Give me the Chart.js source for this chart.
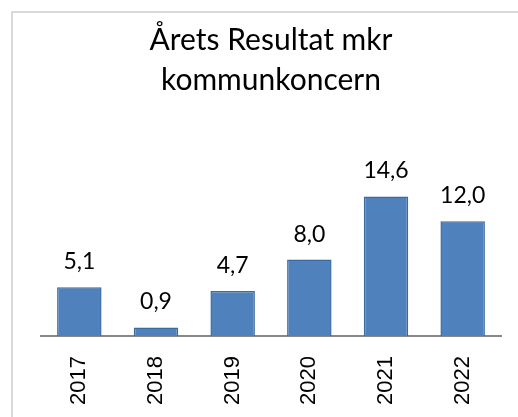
<!DOCTYPE html>
<html>
<head>
<meta charset="utf-8">
<script src="https://cdn.jsdelivr.net/npm/chart.js@4"></script>
<style>
  html, body { margin: 0; padding: 0; background: #fff; overflow: hidden; }
  #wrap { position: relative; width: 518px; height: 417px; }
  #frame { position: absolute; left: 11px; top: 11px; width: 600px; height: 500px; border: 2px solid #d9d9d9; box-sizing: border-box; }
  canvas { position: absolute; left: 0; top: 0; }
</style>
</head>
<body>
<div id="wrap">
  <div id="frame"></div>
  <canvas id="chart" width="518" height="417"></canvas>
</div>
<script>
// Values (mkr)
const years = ['2017', '2018', '2019', '2020', '2021', '2022']
const result = [5.1, 0.9, 4.7, 8.0, 14.6, 12.0]
const titleLines = ['Årets Resultat mkr', 'kommunkoncern']

// Swedish decimal comma above each bar
const valueLabels = {
  id: 'valueLabels',
  afterDatasetsDraw(chart) {
    const ctx = chart.ctx
    const meta = chart.getDatasetMeta(0)
    ctx.save()
    ctx.font = '23px Lato'
    ctx.fillStyle = '#000'
    ctx.textAlign = 'center'
    ctx.textBaseline = 'alphabetic'
    meta.data.forEach((bar, i) => {
      const txt = result[i].toFixed(1).replace('.', ',')
      ctx.fillText(txt, bar.x, bar.y - 18)
    })
    ctx.restore()
  }
}

new Chart(document.getElementById('chart'), {
  type: 'bar',
  data: {
    labels: years,
    datasets: [{
      data: result,
      backgroundColor: '#4f81bd',
      borderColor: '#3b6a9f',
      borderWidth: 1.5,
      barPercentage: 0.58,
      categoryPercentage: 1
    }]
  },
  options: {
    responsive: false,
    animation: false,
    layout: { padding: { left: 41, right: 17, top: 20, bottom: 9 } },
    plugins: {
      legend: { display: false },
      tooltip: { enabled: false },
      title: {
        display: true,
        text: titleLines,
        color: '#000',
        font: { family: 'Lato', size: 30, weight: 'normal', lineHeight: 1.35 },
        padding: { top: 0, bottom: 40 }
      }
    },
    scales: {
      x: {
        grid: { display: false, drawTicks: false },
        border: { color: '#888', width: 2 },
        ticks: {
          color: '#000',
          minRotation: 90,
          maxRotation: 90,
          padding: 20,
          font: { family: 'Liberation Sans', size: 22 }
        },
        afterFit(scale) { scale.height = 72 }
      },
      y: {
        display: false,
        min: 0,
        max: 20.4
      }
    }
  },
  plugins: [valueLabels]
})
</script>
</body>
</html>
